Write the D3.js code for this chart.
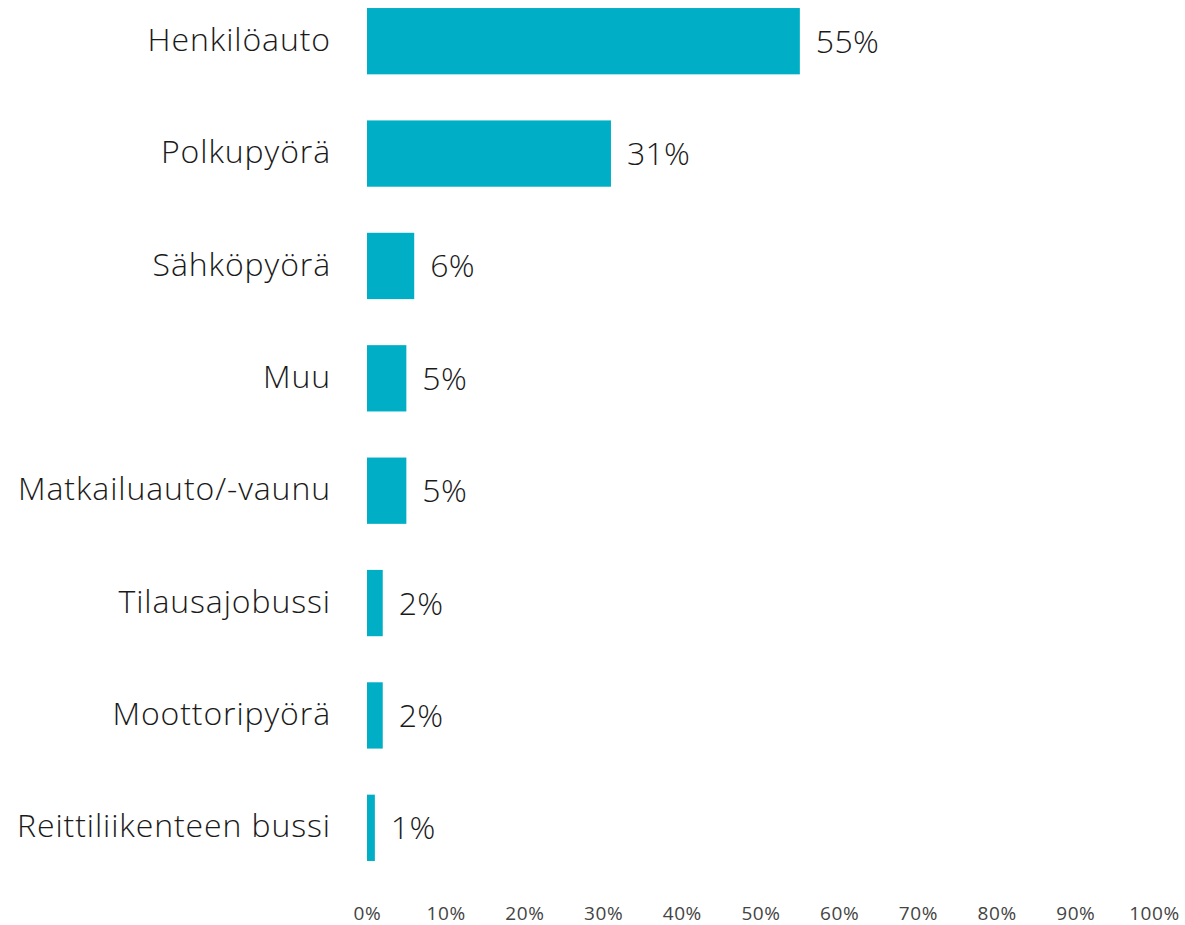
<!DOCTYPE html>
<html>
<head>
<meta charset="utf-8">
<script src="https://cdn.jsdelivr.net/npm/d3@7"></script>
<style>
    body { margin: 0; background: #fff; }
    text { font-family: "Open Sans", "Noto Sans", sans-serif; }
    .catLabel { font-size: 32px; font-weight: 300; fill: #1a1a1a; letter-spacing: 0.9px; }
    .valLabel { font-size: 32px; font-weight: 300; fill: #1a1a1a; letter-spacing: 0.3px; }
    .axis text { font-size: 19px; fill: #444; letter-spacing: 0.6px; }
    .axis path, .axis line { display: none; }
</style>
</head>
<body>
<script>
(function(){

    //categories and values
    var categories = ["Henkilöauto", "Polkupyörä", "Sähköpyörä", "Muu", "Matkailuauto/-vaunu", "Tilausajobussi", "Moottoripyörä", "Reittiliikenteen bussi"];
    var values = [55, 31, 6, 5, 5, 2, 2, 1];
    var tickValues = [0, 10, 20, 30, 40, 50, 60, 70, 80, 90, 100];

    var width = 1185,
        height = 925;

    var svg = d3.select("body")
        .append("svg")
        .attr("width", width)
        .attr("height", height);

    var x = d3.scaleLinear()
        .domain([0, 100])
        .range([367, 1154]);

    var y = d3.scaleBand()
        .domain(categories)
        .range([-15, 884])
        .paddingInner(0.41)
        .paddingOuter(0.205);

    //bars
    svg.selectAll(".bar")
        .data(values)
        .enter()
        .append("rect")
        .attr("class", "bar")
        .attr("x", x(0))
        .attr("y", function(d, i){ return y(categories[i]); })
        .attr("width", function(d){ return x(d) - x(0); })
        .attr("height", y.bandwidth())
        .style("fill", "#00AFC6");

    //value labels
    svg.selectAll(".valLabel")
        .data(values)
        .enter()
        .append("text")
        .attr("class", "valLabel")
        .attr("x", function(d){ return x(d) + 16; })
        .attr("y", function(d, i){ return y(categories[i]) + y.bandwidth() / 2; })
        .attr("dy", "0.36em")
        .text(function(d){ return d + "%"; });

    //category labels
    svg.selectAll(".catLabel")
        .data(categories)
        .enter()
        .append("text")
        .attr("class", "catLabel")
        .attr("x", 331)
        .attr("y", function(d){ return y(d) + y.bandwidth() / 2; })
        .attr("dy", "0.3em")
        .attr("text-anchor", "end")
        .text(function(d){ return d; });

    //x axis
    var xAxis = d3.axisBottom(x)
        .tickValues(tickValues)
        .tickSize(0)
        .tickPadding(0)
        .tickFormat(function(d){ return d + "%"; });

    svg.append("g")
        .attr("class", "axis")
        .attr("transform", "translate(0,906)")
        .call(xAxis);

})();
</script>
</body>
</html>
